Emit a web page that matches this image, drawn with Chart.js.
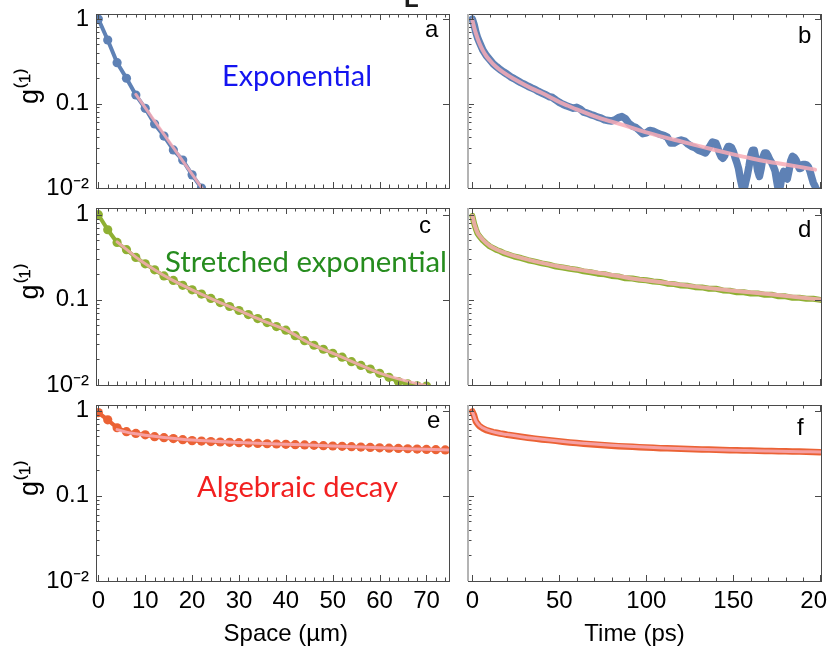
<!DOCTYPE html>
<html>
<head>
<meta charset="utf-8">
<script src="https://cdn.jsdelivr.net/npm/chart.js@4.4.1/dist/chart.umd.min.js"></script>
<style>
  html, body { margin: 0; padding: 0; background: #fff; overflow: hidden; }
  #wrap { position: relative; width: 827px; height: 649px; }
  #wrap canvas { position: absolute; left: 0; top: 0; }
</style>
</head>
<body>
<div id="wrap">
  <canvas id="pa" width="827" height="649"></canvas>
  <canvas id="pb" width="827" height="649"></canvas>
  <canvas id="pc" width="827" height="649"></canvas>
  <canvas id="pd" width="827" height="649"></canvas>
  <canvas id="pe" width="827" height="649"></canvas>
  <canvas id="pf" width="827" height="649"></canvas>
</div>
<script>
//* Input data //*

// Space panels (a, c, e): g(1) against distance in um
var spaceA = [0, 2, 4, 6, 8, 10, 12, 14, 16, 18, 20, 22];
var gA = [1.0, 0.564, 0.304, 0.199, 0.126, 0.0877, 0.0572, 0.0412, 0.0282, 0.0214, 0.0143, 0.0100];
var fitSpaceA = [8, 22.2];
var fitA = [0.128, 0.0098];

var spaceC = [0, 2, 4, 6, 8, 10, 12, 14, 16, 18, 20, 22, 24, 26, 28, 30, 32, 34, 36, 38, 40, 42, 44, 46, 48, 50, 52, 54, 56, 58, 60, 62, 64, 66, 68, 70];
var gC = [1.0, 0.666, 0.472, 0.388, 0.315, 0.265, 0.225, 0.191, 0.169, 0.148, 0.131, 0.117, 0.104, 0.093, 0.0835, 0.075, 0.0672, 0.0603, 0.0541, 0.0485,
          0.044, 0.038, 0.0332, 0.0293, 0.0263, 0.0236, 0.0212, 0.0188, 0.0170, 0.0154, 0.0137, 0.0123, 0.0110, 0.0103, 0.0098, 0.0097];
var fitSpaceC = [4, 6, 8, 10, 12, 15, 20, 25, 30, 35, 40, 45, 50, 55, 60, 65, 70];
var fitC = [0.48, 0.392, 0.318, 0.266, 0.226, 0.180, 0.131, 0.098, 0.075, 0.057, 0.0443, 0.031, 0.0236, 0.018, 0.0138, 0.0114, 0.0098];

var spaceE = [0, 2, 4, 6, 8, 10, 12, 14, 16, 18, 20, 22, 24, 26, 28, 30, 32, 34, 36, 38, 40, 42, 44, 46, 48, 50, 52, 54, 56, 58, 60, 62, 64, 66, 68, 70, 72, 74];
var gE = [0.95, 0.78, 0.63, 0.567, 0.54, 0.52, 0.495, 0.482, 0.47, 0.457, 0.445, 0.44, 0.434, 0.429, 0.425, 0.421, 0.417, 0.413, 0.409, 0.406,
          0.403, 0.399, 0.396, 0.392, 0.388, 0.385, 0.381, 0.378, 0.374, 0.370, 0.366, 0.363, 0.360, 0.357, 0.354, 0.351, 0.348, 0.346];
var fitSpaceE = [4, 6, 8, 10, 14, 20, 30, 40, 50, 60, 70, 75];
var fitE = [0.60, 0.56, 0.535, 0.515, 0.485, 0.452, 0.423, 0.404, 0.386, 0.367, 0.352, 0.345];

// Time panels (b, d, f): g(1) against delay in ps
var timeB = [0, 1, 2, 3, 4, 5, 6,
  8, 10, 12, 14, 16, 18, 20, 22, 24, 26,
  28, 30, 32, 34, 36, 38, 40, 42, 44, 46,
  48, 50, 52, 54, 56, 58, 60, 62, 64, 66,
  68, 70, 72, 74, 76, 78, 80, 82, 84, 86,
  88, 90, 92, 94, 96, 98, 100, 102, 104, 106,
  108, 110, 112, 114, 116, 118, 120, 122, 124, 126,
  128, 130, 132, 134, 136, 138, 140,
  141, 142, 143, 144, 145, 146, 147, 148, 149, 150,
  151, 152, 153, 154, 155, 156, 157, 158, 159, 160,
  161, 162, 163, 164, 165, 166, 167, 168, 169, 170,
  171, 172, 173, 174, 175, 176, 177, 178, 179, 180,
  181, 182, 183, 184, 185, 186, 187, 188, 189, 190,
  191, 192, 193, 194, 195, 196, 197, 198, 199, 200];
var gB = [1.00, 0.86, 0.70, 0.60, 0.535, 0.48, 0.43,
  0.37, 0.33, 0.295, 0.272, 0.252, 0.236, 0.222, 0.207, 0.197, 0.186,
  0.176, 0.168, 0.160, 0.153, 0.147, 0.139, 0.133, 0.127, 0.121, 0.118,
  0.110, 0.103, 0.098, 0.094, 0.091, 0.088, 0.090, 0.086, 0.079, 0.077,
  0.074, 0.072, 0.069, 0.067, 0.064, 0.063, 0.062, 0.064, 0.068, 0.070,
  0.066, 0.058, 0.054, 0.052, 0.048, 0.044, 0.045, 0.048, 0.047, 0.045,
  0.043, 0.042, 0.040, 0.034, 0.034, 0.036, 0.037, 0.036, 0.033, 0.031,
  0.030, 0.028, 0.027, 0.026, 0.030, 0.035, 0.034,
  0.030, 0.026, 0.0235, 0.0225, 0.024, 0.028, 0.031, 0.031, 0.030, 0.027,
  0.023, 0.020, 0.017, 0.013, 0.0105, 0.0092, 0.0115, 0.014, 0.018, 0.024,
  0.028, 0.028, 0.022, 0.016, 0.0137, 0.017, 0.023, 0.026, 0.026, 0.024,
  0.0215, 0.020, 0.018, 0.016, 0.012, 0.0092, 0.0105, 0.014, 0.0157, 0.0135,
  0.0128, 0.016, 0.021, 0.0237, 0.023, 0.0215, 0.019, 0.017, 0.0172, 0.019,
  0.019, 0.0188, 0.018, 0.016, 0.0135, 0.0115, 0.0105, 0.0092, 0.0092, 0.0092];
var fitTimeB = [0, 1, 2, 3, 4, 6, 8, 10, 12, 15, 20, 25, 30, 35, 40, 45, 50, 55, 60, 70, 80, 90, 100, 110, 120, 130, 140, 150, 160, 170, 180, 190, 197];
var fitB = [0.97, 0.80, 0.68, 0.59, 0.52, 0.425, 0.365, 0.325, 0.292, 0.258, 0.218, 0.19, 0.167, 0.148, 0.133, 0.118, 0.104, 0.094, 0.085,
            0.071, 0.061, 0.053, 0.0455, 0.040, 0.0355, 0.0315, 0.028, 0.025, 0.0225, 0.0205, 0.019, 0.0175, 0.0165];

var timeDF = [0, 1, 2, 3, 4, 6, 8, 10, 12, 14, 16, 18, 20,
  24, 28, 32, 36, 40, 44, 48, 52, 56, 60,
  64, 68, 72, 76, 80, 84, 88, 92, 96, 100,
  104, 108, 112, 116, 120, 124, 128, 132, 136, 140,
  144, 148, 152, 156, 160, 164, 168, 172, 176, 180,
  184, 188, 192, 196, 200];
var gD = [0.97, 0.79, 0.68, 0.60, 0.56, 0.50, 0.46, 0.425, 0.405, 0.385, 0.372, 0.355, 0.345,
  0.323, 0.31, 0.292, 0.281, 0.268, 0.259, 0.246, 0.24, 0.232, 0.226,
  0.216, 0.211, 0.203, 0.2, 0.191, 0.188, 0.179, 0.178, 0.172, 0.17,
  0.164, 0.162, 0.155, 0.153, 0.147, 0.146, 0.141, 0.14, 0.135, 0.135,
  0.129, 0.128, 0.123, 0.123, 0.119, 0.119, 0.115, 0.115, 0.11, 0.11,
  0.106, 0.106, 0.103, 0.103, 0.1];
var fitTimeD = [0, 1, 2, 3, 4, 6, 8, 10, 14, 18, 24, 32, 40, 50, 60, 75, 90, 110, 130, 150, 170, 190, 200];
var fitD = [0.97, 0.80, 0.69, 0.61, 0.57, 0.51, 0.465, 0.432, 0.39, 0.36, 0.328, 0.297, 0.272, 0.247, 0.228, 0.204, 0.181, 0.160, 0.142, 0.128, 0.117, 0.106, 0.101];

var gF = [0.98, 0.88, 0.75, 0.70, 0.66, 0.62, 0.59, 0.575, 0.56, 0.55, 0.54, 0.532, 0.522,
  0.508, 0.495, 0.482, 0.47, 0.46, 0.451, 0.442, 0.432, 0.424, 0.417,
  0.41, 0.403, 0.397, 0.392, 0.387, 0.383, 0.379, 0.376, 0.373, 0.369,
  0.366, 0.363, 0.361, 0.359, 0.357, 0.355, 0.353, 0.351, 0.349, 0.347,
  0.345, 0.344, 0.342, 0.341, 0.34, 0.338, 0.337, 0.336, 0.334, 0.333,
  0.332, 0.331, 0.329, 0.328, 0.326];
var fitTimeF = [0, 1, 2, 4, 8, 14, 20, 30, 40, 55, 70, 90, 110, 130, 150, 170, 190, 200];
var fitF = [0.97, 0.86, 0.76, 0.67, 0.6, 0.55, 0.524, 0.488, 0.462, 0.43, 0.405, 0.381, 0.364, 0.352, 0.343, 0.336, 0.33, 0.327];

// Tick values and labels
var spaceTickLabels = [0, 10, 20, 30, 40, 50, 60, 70];
var timeTickLabels = [0, 50, 100, 150, 200];
var gTicks = [0.01, 0.02, 0.03, 0.04, 0.05, 0.06, 0.07, 0.08, 0.09, 0.1, 0.2, 0.3, 0.4, 0.5, 0.6, 0.7, 0.8, 0.9, 1];
var gLabelValues = [0.01, 0.1, 1];
var gLabels = ['10\u207B\u00B2', '0.1', '1'];

//* Style //*

var FONT = "'Liberation Sans', Arial, sans-serif";
var BLUE = '#5E81B5';
var GREEN = '#8FB032';
var RED = '#EB6235';
var FIT_PINK = 'rgba(248, 172, 182, 0.85)';

// Panel geometry, rows then columns
var rowTop = [14, 208, 405];
var rowBottom = [188, 385, 581];
var rowMax = [1.146, 1.199, 1.166];
var colLeft = [96, 468];
var colRight = [449, 821];
var colMin = [-0.5, -2.5];
var colMax = [74.8, 200.4];

function stepList(from, to, step) {
    var out = [];
    for (var v = from; v <= to + 1e-9; v += step) out.push(Math.round(v * 1000) / 1000);
    return out;
}
var minorSpace = stepList(0, 74, 2);
var minorTime = stepList(0, 200, 10);

function isMajor(v, step) {
    return Math.abs(v / step - Math.round(v / step)) < 1e-6;
}

//* Plugins: inward Mathematica style frame ticks, and text notes //*

var plotFrame = {
    id: 'plotFrame',
    afterDatasetsDraw: function(chart, args, o) {
        var ctx = chart.ctx, a = chart.chartArea;
        var xs = chart.scales.x, ys = chart.scales.y;
        ctx.save();
        ctx.strokeStyle = '#4a4a4a';
        ctx.lineWidth = 1;
        ctx.beginPath();
        xs.ticks.forEach(function(t) {
            var px = Math.round(xs.getPixelForValue(t.value)) + 0.5;
            if (px < a.left || px > a.right) return;
            var len = isMajor(t.value, o.xMajor) ? 6 : 3.5;
            ctx.moveTo(px, a.bottom); ctx.lineTo(px, a.bottom - len);
            ctx.moveTo(px, a.top); ctx.lineTo(px, a.top + len);
        });
        ys.ticks.forEach(function(t) {
            var py = Math.round(ys.getPixelForValue(t.value)) + 0.5;
            var major = gLabelValues.indexOf(t.value) >= 0;
            ctx.moveTo(a.left, py); ctx.lineTo(a.left + (major ? 6 : 3.5), py);
            if (major) { ctx.moveTo(a.right, py); ctx.lineTo(a.right - 6, py); }
        });
        ctx.stroke();
        ctx.strokeRect(Math.round(a.left) + 0.5, Math.round(a.top) + 0.5, Math.round(a.right - a.left), Math.round(a.bottom - a.top));
        if (o.grayLeft) {
            // Right hand panels have a soft grey left edge.
            ctx.strokeStyle = '#b4b4b4';
            ctx.lineWidth = 2;
            ctx.beginPath();
            ctx.moveTo(a.left, a.top); ctx.lineTo(a.left, a.bottom);
            ctx.stroke();
        }
        ctx.restore();
    }
};

var panelNotes = {
    id: 'panelNotes',
    afterDraw: function(chart, args, o) {
        var ctx = chart.ctx;
        (o.items || []).forEach(function(it) {
            ctx.save();
            ctx.font = it.font;
            ctx.fillStyle = it.color;
            ctx.textAlign = 'left';
            ctx.textBaseline = 'alphabetic';
            var w = ctx.measureText(it.text).width;
            // Squeeze the label to the width it has in the picture.
            var sx = it.width ? it.width / w : 1;
            ctx.translate(it.x, it.y);
            ctx.scale(sx, 1);
            ctx.fillText(it.text, 0, 0);
            ctx.restore();
        });
    }
};

Chart.register(plotFrame, panelNotes);

//* Datasets //*

function toPoints(xs, ys) {
    return xs.map(function(x, i) { return {x: x, y: ys[i]}; });
}

function dataLine(xs, ys, colour, width, dots) {
    return {
        data: toPoints(xs, ys),
        borderColor: colour,
        backgroundColor: colour,
        borderWidth: width,
        pointRadius: dots ? 4.6 : 0,
        pointBorderWidth: 0,
        pointHoverRadius: 0,
        borderJoinStyle: 'round',
        borderCapStyle: 'round',
        tension: 0,
        clip: 0,
        order: 2
    };
}

function fitLine(xs, ys, width) {
    return {
        data: toPoints(xs, ys),
        borderColor: FIT_PINK,
        borderWidth: width,
        pointRadius: 0,
        pointHoverRadius: 0,
        borderCapStyle: 'round',
        cubicInterpolationMode: 'monotone',
        clip: 0,
        order: 1
    };
}

function letter(text, x, y) {
    return {text: text, x: x, y: y, font: '24px ' + FONT, color: '#000'};
}

function curveLabel(text, x, y, width, colour) {
    return {text: text, x: x, y: y, width: width, font: "28px Lato, 'Open Sans', sans-serif", color: colour};
}

//* Make one panel //*

function makePanel(canvasId, row, col, datasets, notes) {
    var yw = col === 0 ? 96 : 10;
    // Width of the y axis box.
    var xh = row === 2 ? 68 : 10;
    // Height of the x axis box.
    var majorStep = col === 0 ? 10 : 50;
    var bottomRow = row === 2;

    return new Chart(document.getElementById(canvasId), {
        type: 'line',
        data: {datasets: datasets},
        options: {
            responsive: false,
            animation: false,
            devicePixelRatio: 1,
            events: [],
            layout: {
                padding: {
                    left: colLeft[col] - yw,
                    top: rowTop[row],
                    right: 827 - colRight[col],
                    bottom: 649 - rowBottom[row] - xh
                }
            },
            plugins: {
                legend: {display: false},
                tooltip: {enabled: false},
                plotFrame: {xMajor: majorStep, grayLeft: col === 1},
                panelNotes: {items: notes}
            },
            scales: {
                x: {
                    type: 'linear',
                    min: colMin[col],
                    max: colMax[col],
                    grid: {display: false, drawTicks: false},
                    border: {display: false},
                    afterBuildTicks: function(s) {
                        s.ticks = (col === 0 ? minorSpace : minorTime).map(function(v) { return {value: v}; });
                    },
                    ticks: {
                        autoSkip: false,
                        maxRotation: 0,
                        minRotation: 0,
                        padding: 6,
                        color: '#000',
                        font: {family: FONT, size: 24},
                        callback: function(v) {
                            var labels = col === 0 ? spaceTickLabels : timeTickLabels;
                            return bottomRow && labels.indexOf(v) >= 0 ? String(v) : '';
                        }
                    },
                    title: {
                        display: bottomRow,
                        text: col === 0 ? '    Space (\u00B5m)' : 'Time (ps)   ',
                        color: '#000',
                        font: {family: FONT, size: 24},
                        padding: {top: 0, bottom: 0}
                    },
                    afterFit: function(s) {
                        s.height = xh;
                        s.paddingLeft = 0;
                        s.paddingRight = 0;
                    }
                },
                y: {
                    type: 'logarithmic',
                    min: 0.01,
                    max: rowMax[row],
                    grid: {display: false, drawTicks: false},
                    border: {display: false},
                    afterBuildTicks: function(s) {
                        s.ticks = gTicks.map(function(v) { return {value: v}; });
                    },
                    ticks: {
                        autoSkip: false,
                        padding: 7,
                        color: '#000',
                        font: {family: FONT, size: 24},
                        callback: function(v) {
                            if (col === 1) return '';
                            var k = gLabelValues.indexOf(v);
                            return k < 0 ? '' : gLabels[k];
                        }
                    },
                    title: {
                        display: col === 0,
                        text: '    g\u207D\u00B9\u207E',
                        color: '#000',
                        font: {family: FONT, size: 27},
                        padding: {top: 14, bottom: 0}
                    },
                    afterFit: function(s) {
                        s.width = yw;
                        s.paddingTop = 0;
                        s.paddingBottom = 0;
                    }
                }
            }
        }
    });
}

//* Build the six panels //*

makePanel('pa', 0, 0,
    [fitLine(fitSpaceA, fitA, 3), dataLine(spaceA, gA, BLUE, 4, true)],
    [letter('a', 425, 37),
     curveLabel('Exponential', 222, 86, 150, '#1414f0'),
     {text: 'L', x: 404, y: 7, font: 'bold 24px ' + FONT, color: '#1c1c1c'}]);

makePanel('pb', 0, 1,
    [fitLine(fitTimeB, fitB, 4), dataLine(timeB, gB, BLUE, 7.5, false)],
    [letter('b', 798, 43)]);

makePanel('pc', 1, 0,
    [fitLine(fitSpaceC, fitC, 3), dataLine(spaceC, gC, GREEN, 4, true)],
    [letter('c', 419, 233),
     curveLabel('Stretched exponential', 165, 272, 282, '#268c1e')]);

makePanel('pd', 1, 1,
    [fitLine(fitTimeD, fitD, 4), dataLine(timeDF, gD, GREEN, 6, false)],
    [letter('d', 798, 237)]);

makePanel('pe', 2, 0,
    [fitLine(fitSpaceE, fitE, 3), dataLine(spaceE, gE, RED, 4, true)],
    [letter('e', 427, 428),
     curveLabel('Algebraic decay', 197, 497, 201, '#f22020')]);

makePanel('pf', 2, 1,
    [fitLine(fitTimeF, fitF, 3), dataLine(timeDF, gF, RED, 6.5, false)],
    [letter('f', 797, 435)]);
</script>
</body>
</html>
